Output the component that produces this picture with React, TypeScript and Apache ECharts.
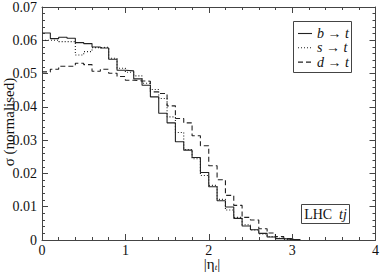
import React, { useEffect, useRef } from "react";
import * as echarts from "echarts";

const binWidth = 0.1;
const solidBT = [0.0622, 0.0605, 0.0609, 0.0606, 0.0593, 0.0590, 0.0580, 0.0577, 0.0543, 0.0510, 0.0508, 0.0484, 0.0465, 0.0430, 0.0381, 0.0352, 0.0295, 0.0270, 0.0248, 0.0203, 0.0160, 0.0118, 0.0099, 0.0065, 0.0042, 0.0031, 0.0020, 0.0009, 0.0004, 0.0002, 0.0001];
const dottedST = [0.0600, 0.0600, 0.0596, 0.0596, 0.0556, 0.0566, 0.0578, 0.0579, 0.0546, 0.0516, 0.0504, 0.0493, 0.0471, 0.0452, 0.0425, 0.0370, 0.0323, 0.0272, 0.0244, 0.0194, 0.0164, 0.0122, 0.0090, 0.0068, 0.0046, 0.0030, 0.0018, 0.0010, 0.0005, 0.0002, 0.0001];
const dashedDT = [0.0505, 0.0513, 0.0522, 0.0522, 0.0531, 0.0527, 0.0507, 0.0513, 0.0501, 0.0491, 0.0480, 0.0478, 0.0477, 0.0445, 0.0440, 0.0403, 0.0365, 0.0352, 0.0313, 0.0283, 0.0223, 0.0181, 0.0134, 0.0104, 0.0068, 0.0060, 0.0034, 0.0021, 0.0010, 0.0004, 0.0001];
const legendLabels = ["b", "s", "d"];
const xTicks = [0, 1, 2, 3, 4];

const serif = "Liberation Serif";
const ink = "#222";

function steps(vals: number[]) {
  const pts: [number, number][] = vals.map((v, i) => [+(i * binWidth).toFixed(2), v]);
  pts.push([+(vals.length * binWidth).toFixed(2), 0]);
  return pts;
}

export default function App() {
  const ref = useRef<HTMLDivElement>(null);
  useEffect(() => {
    if (!ref.current) return;
    const chart = echarts.init(ref.current, undefined, { renderer: "svg" });
    const axisCommon = {
      type: "value" as const,
      axisLine: { show: true, onZero: false, lineStyle: { color: "#444", width: 1 } },
      axisTick: { show: true, inside: true, length: 6, lineStyle: { color: "#444" } },
      minorTick: { show: true, splitNumber: 5, length: 3, lineStyle: { color: "#444" } },
      splitLine: { show: false },
    };
    const dashes = ["solid", [1, 2], [5, 3]];
    const datasets = [solidBT, dottedST, dashedDT];
    chart.setOption({
      animation: false,
      backgroundColor: "#fff",
      grid: { left: 42, top: 5, width: 335, height: 235, containLabel: false },
      xAxis: [
        {
          ...axisCommon,
          min: 0,
          max: 4,
          interval: 1,
          position: "bottom",
          axisLabel: { show: true, fontFamily: serif, fontSize: 14, color: "#111", margin: 3, formatter: (v: number) => (xTicks.includes(v) ? String(v) : "") },
        },
        { ...axisCommon, min: 0, max: 4, interval: 1, position: "top", axisLabel: { show: false } },
      ],
      yAxis: [
        {
          ...axisCommon,
          min: 0,
          max: 0.07,
          interval: 0.01,
          position: "left",
          axisLabel: {
            show: true,
            fontFamily: serif,
            fontSize: 14,
            color: "#111",
            margin: 5,
            formatter: (v: number) => (v === 0 ? "0" : v.toFixed(2)),
          },
        },
        { ...axisCommon, min: 0, max: 0.07, interval: 0.01, position: "right", axisLabel: { show: false } },
      ],
      series: datasets.map((d, i) => ({
        type: "line",
        name: legendLabels[i],
        step: "end",
        data: steps(d),
        xAxisIndex: 0,
        yAxisIndex: 0,
        symbol: "none",
        lineStyle: { color: ink, width: 1.1, type: dashes[i] },
        z: 3 - i,
      })),
      graphic: [
        {
          type: "text",
          x: 9,
          y: 122,
          rotation: Math.PI / 2,
          style: { text: "σ (normalised)", fontFamily: serif, fontSize: 15, fill: "#111", align: "center", verticalAlign: "middle" },
        },
        {
          type: "text",
          x: 212,
          y: 264,
          style: {
            text: "|η{s|t}|",
            fontFamily: serif,
            fontSize: 15,
            fill: "#111",
            align: "center",
            verticalAlign: "middle",
            rich: { s: { fontSize: 9, fontFamily: serif, fontStyle: "italic", padding: [6, 0, 0, 0] } },
          },
        },
        {
          type: "rect",
          shape: { x: 293.5, y: 21.5, width: 58, height: 51 },
          style: { fill: "#fff", stroke: "#444", lineWidth: 1 },
          z: 10,
        },
        ...legendLabels.flatMap((lab, i) => {
          const y = 33.5 + i * 14.3;
          return [
            {
              type: "line",
              shape: { x1: 298, y1: y, x2: 312, y2: y },
              style: { stroke: ink, lineWidth: 1.1, lineDash: i === 0 ? null : (dashes[i] as number[]) },
              z: 11,
            },
            {
              type: "text",
              x: 317,
              y: y,
              style: {
                text: `{i|${lab}} → {i|t}`,
                fontFamily: serif,
                fontSize: 14,
                fill: "#111",
                verticalAlign: "middle",
                rich: { i: { fontStyle: "italic", fontFamily: serif, fontSize: 14 } },
              },
              z: 11,
            },
          ];
        }),
        {
          type: "rect",
          shape: { x: 301.5, y: 204.5, width: 48, height: 19 },
          style: { fill: "#fff", stroke: "#444", lineWidth: 1 },
          z: 10,
        },
        {
          type: "text",
          x: 325.5,
          y: 214,
          style: {
            text: "LHC  {i|tj}",
            fontFamily: serif,
            fontSize: 14,
            fill: "#111",
            align: "center",
            verticalAlign: "middle",
            rich: { i: { fontStyle: "italic", fontFamily: serif, fontSize: 14 } },
          },
          z: 11,
        },
      ],
    });
    return () => chart.dispose();
  }, []);
  return <div ref={ref} style={{ width: 382, height: 273, position: "absolute", left: 0, top: 0 }} />;
}
